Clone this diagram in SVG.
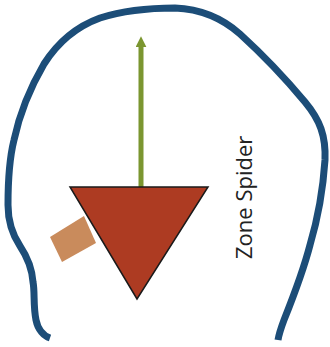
<svg xmlns="http://www.w3.org/2000/svg" width="330" height="347" viewBox="0 0 330 347">
<style>
.outline{fill:none;stroke:#1c4d78;stroke-width:7;stroke-linecap:butt;stroke-linejoin:round}
.arrow{stroke:#7b9630;stroke-width:5;fill:none}
.label{font-family:"Open Sans",sans-serif;font-size:22px;fill:#222}
</style>
<defs>
<marker id="ah" viewBox="0 0 10 10" refX="3" refY="5" markerWidth="2.2" markerHeight="2.2" orient="auto">
<path d="M0,0 L10,5 L0,10 z" fill="#7b9630"/>
</marker>
</defs>
<rect width="330" height="347" fill="#fff"/>
<g id="zone">
<path class="outline" d="M50,338 C44,336 38,330 36,320 C33,305 35,292 33,282 C32,268 28,258 20,246 C12,234 8,222 8,205 C8,180 9,160 14,140 C20,112 30,88 44,64 C58,42 78,26 100,18 C125,10 150,8 175,8 C200,9 222,18 240,34 C262,54 285,78 305,102 C320,120 326,136 325,160 C323,190 318,218 310,245 C303,272 292,300 284,320 C281,328 279,334 278,340"/>
</g>
<g id="connectors">
<line class="arrow" x1="141" y1="188" x2="141" y2="44" marker-end="url(#ah)"/>
</g>
<g id="triangle">
<polygon points="70,187 208,187 137,299" fill="#ad3b22" stroke="#1a1a1a" stroke-width="1.5" stroke-linejoin="miter"/>
</g>
<g id="block">
<polygon points="50,237 84,216 96,243 62,262" fill="#c98b5c"/>
</g>
<g id="label">
<text class="label" transform="translate(252,259) rotate(-90)">Zone Spider</text>
</g>
</svg>
